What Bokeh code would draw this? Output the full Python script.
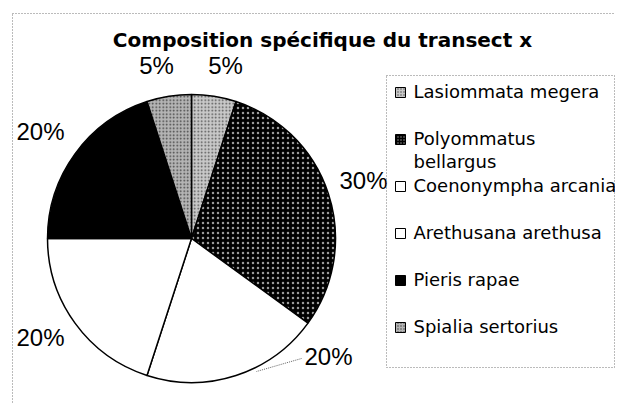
import numpy as np
from bokeh.plotting import figure
from bokeh.models import Range1d, ColumnDataSource
from bokeh.core.properties import value
from bokeh.embed import file_html
from bokeh.resources import INLINE

# ---------------- data ----------------
species = ["Lasiommata megera", "Polyommatus bellargus", "Coenonympha arcania",
           "Arethusana arethusa", "Pieris rapae", "Spialia sertorius"]
percent = [5, 30, 20, 20, 20, 5]
title_text = "Composition spécifique du transect x"

# ---------------- styles ----------------
fills = ["#c8c8c8", "#000000", "#ffffff", "#ffffff", "#000000", "#b4b4b4"]
hatches = [".", ".", " ", " ", " ", "."]
hatch_cols = ["#505050", "#9a9a9a", "#000000", "#000000", "#000000", "#404040"]
hatch_scales = [3.5, 5, 3.5, 3.5, 3.5, 3.5]
hatch_weights = [1, 0.7, 1, 1, 1, 1]

W, H = 615, 403
TEXT_SHIFT = 8  # empirical vertical offset of svg text baselines


def Y(py):
    return H - py


def YT(py):
    return H - py + TEXT_SHIFT


p = figure(width=W, height=H, x_range=Range1d(0, W), y_range=Range1d(0, H),
           output_backend="svg", toolbar_location=None,
           x_axis_location=None, y_axis_location=None, min_border=0,
           outline_line_color=None, background_fill_color="white",
           border_fill_color="white")
p.grid.visible = False

# outer dotted border of chart area
p.quad(left=[12], right=[W + 20], top=[Y(13)], bottom=[-20], fill_color=None,
       line_color="#777777", line_dash="1 2", line_width=1)

# ---------------- pie ----------------
cx, cy, r = 191, Y(238), 144
vals = np.array(percent, dtype=float)
cw_start = np.concatenate([[0], np.cumsum(vals)[:-1]]) * 360.0 / vals.sum()
cw_end = cw_start + vals * 360.0 / vals.sum()
src = ColumnDataSource(dict(
    start=np.radians(90 - cw_end), end=np.radians(90 - cw_start),
    fill=fills, hatch=hatches, hcol=hatch_cols, hs=hatch_scales,
    hw=hatch_weights, name=species))
p.wedge(x=cx, y=cy, radius=r, start_angle="start", end_angle="end",
        fill_color="fill", hatch_pattern="hatch", hatch_color="hcol",
        hatch_scale="hs", hatch_weight="hw", line_color="black", line_width=1.5,
        source=src)

# ---------------- percentage labels ----------------
label_x = [225, 363, 328, 40, 40, 156]
label_base = [73, 188, 364, 345, 139, 73]
p.text(x=label_x, y=[YT(b) for b in label_base], text=[f"{v}%" for v in percent],
       text_font=value("Liberation Sans"), text_font_size="24px",
       text_align="center", text_baseline="alphabetic", text_color="black")
# leader line for the lower-right label
p.line(x=[301, 256], y=[Y(358), Y(371)], line_color="#666666",
       line_dash="1 1", line_width=1)

# ---------------- title ----------------
p.text(x=[322], y=[YT(47.5)], text=[title_text], text_font=value("DejaVu Sans"),
       text_font_style="bold", text_font_size="20px", text_align="center",
       text_baseline="alphabetic", text_color="black")

# ---------------- legend ----------------
p.quad(left=[386], right=[W - 1], top=[Y(75)], bottom=[Y(367)], fill_color=None,
       line_color="#777777", line_dash="1 2", line_width=1)
item_y = [92 + 47 * i for i in range(len(species))]
p.rect(x=[400] * len(species), y=[Y(v) for v in item_y], width=10, height=10,
       fill_color=fills, hatch_pattern=hatches, hatch_color=hatch_cols,
       hatch_scale=3, line_color="black", line_width=1)
tx, ty, tt = [], [], []
for name, yc in zip(species, item_y):
    lines = name.split(" ") if len(name) > 20 else [name]
    for k, ln in enumerate(lines):
        tx.append(413)
        ty.append(YT(yc + 6.5 + 23 * k))
        tt.append(ln)
p.text(x=tx, y=ty, text=tt, text_font=value("DejaVu Sans"), text_font_size="18px",
       text_align="left", text_baseline="alphabetic", text_color="black")

open("out.html", "w").write(file_html(p, INLINE))
